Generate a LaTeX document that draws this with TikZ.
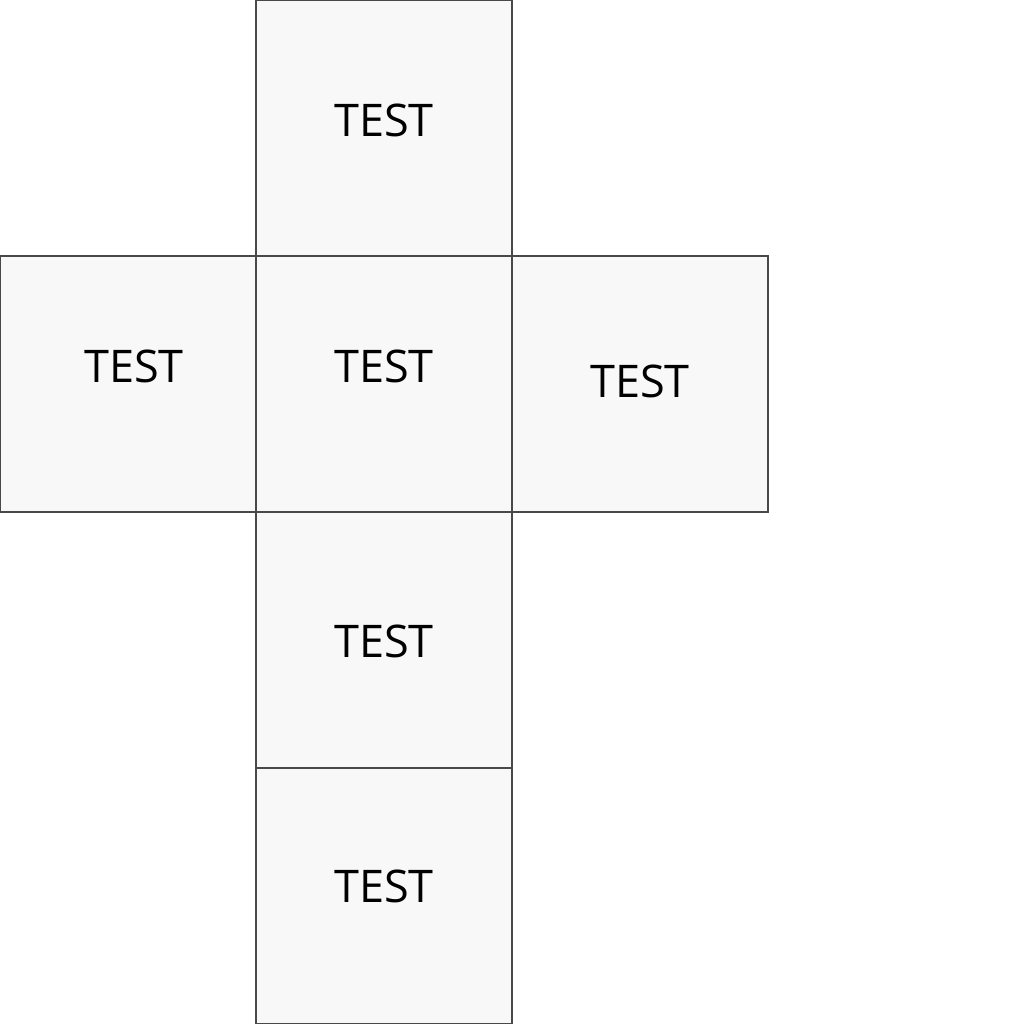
\documentclass[tikz,border=0pt]{standalone}
\usepackage{fontspec}
\setmainfont{Open Sans}
\usepackage{xcolor}
\usepackage{tikz}
\usetikzlibrary{positioning}

\definecolor{facefill}{HTML}{F8F8F8}
\definecolor{faceline}{HTML}{484848}

\begin{document}
\begin{tikzpicture}[
  font=\fontsize{12.8pt}{15pt}\selectfont,
  node distance=0cm and 0cm,
  face/.style={draw=faceline,line width=0.3pt,fill=facefill,minimum size=2.56cm,inner sep=0pt,outer sep=0pt},
  facetext/.style={inner sep=0pt,text=black},
]
\useasboundingbox (0,0) rectangle (10.24,10.24);
\node[face] (top) at (3.84,8.96) {};
\node[face, below=of top] (front) {};
\node[face, left=of front] (left) {};
\node[face, right=of front] (right) {};
\node[face, below=of front] (bottom) {};
\node[face, below=of bottom] (back) {};

\node[facetext] (toptext) at ([yshift=0.08cm]top.center) {TEST};
\node[facetext] (lefttext) at ([xshift=0.06cm,yshift=0.18cm]left.center) {TEST};
\node[facetext] (fronttext) at ([yshift=0.18cm]front.center) {TEST};
\node[facetext] (righttext) at ([yshift=0.025cm]right.center) {TEST};
\node[facetext] (bottomtext) at ([yshift=-0.015cm]bottom.center) {TEST};
\node[facetext] (backtext) at ([yshift=0.095cm]back.center) {TEST};
\end{tikzpicture}
\end{document}
